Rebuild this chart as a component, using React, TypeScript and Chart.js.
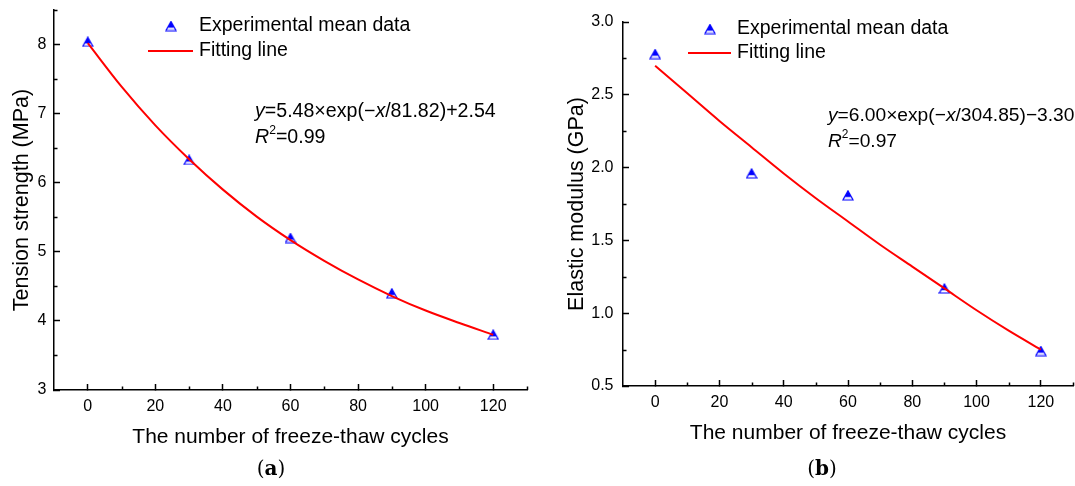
import React, { useEffect, useRef } from 'react';
import { Chart, registerables } from 'chart.js';

Chart.register(...registerables);

// ---------- data ----------
const cycles = [0, 30, 60, 90, 120];
const tensionMean = [8.04, 6.33, 5.2, 4.4, 3.8];
const modulusMean = [2.78, 1.96, 1.81, 1.17, 0.74];

const fitCycles = [0, 10, 20, 30, 40, 50, 60, 70, 80, 90, 100, 110, 120];
const tensionFit = [8.02, 7.39, 6.83, 6.34, 5.9, 5.51, 5.17, 4.87, 4.6, 4.36, 4.15, 3.97, 3.8];
const modulusFit = [2.7, 2.51, 2.32, 2.14, 1.96, 1.79, 1.63, 1.47, 1.32, 1.17, 1.02, 0.88, 0.75];

const xMajorTicks = [0, 20, 40, 60, 80, 100, 120];
const xMinorTicks = [10, 30, 50, 70, 90, 110, 130];
const tensionTicks = [3, 4, 5, 6, 7, 8];
const tensionMinor = [3.5, 4.5, 5.5, 6.5, 7.5, 8.5];
const modulusTicks = [0.5, 1.0, 1.5, 2.0, 2.5, 3.0];
const modulusMinor = [0.75, 1.25, 1.75, 2.25, 2.75];

const legendLabels = ['Experimental mean data', 'Fitting line'];
const xTitle = 'The number of freeze-thaw cycles';
const tensionTitle = 'Tension strength (MPa)';
const modulusTitle = 'Elastic modulus (GPa)';

type Run = { t: string; i?: boolean; b?: boolean; sup?: boolean; serif?: boolean };
const tensionEq: Run[] = [{ t: 'y', i: true }, { t: '=5.48×exp(−' }, { t: 'x', i: true }, { t: '/81.82)+2.54' }];
const tensionR2: Run[] = [{ t: 'R', i: true }, { t: '2', sup: true }, { t: '=0.99' }];
const modulusEq: Run[] = [{ t: 'y', i: true }, { t: '=6.00×exp(−' }, { t: 'x', i: true }, { t: '/304.85)−3.30' }];
const modulusR2: Run[] = [{ t: 'R', i: true }, { t: '2', sup: true }, { t: '=0.97' }];
const labelA: Run[] = [{ t: '(', serif: true }, { t: 'a', serif: true, b: true }, { t: ')', serif: true }];
const labelB: Run[] = [{ t: '(', serif: true }, { t: 'b', serif: true, b: true }, { t: ')', serif: true }];

// ---------- style ----------
const SANS = '"Liberation Sans", Arial, Helvetica, sans-serif';
const SERIF = '"DejaVu Serif", "Liberation Serif", serif';
const BLUE = '#0000ff';
const RED = '#ff0000';

function makeMarker() {
  const c = document.createElement('canvas');
  c.width = 12;
  c.height = 11;
  const g = c.getContext('2d')!;
  g.strokeStyle = BLUE;
  g.fillStyle = BLUE;
  g.lineWidth = 1.2;
  g.beginPath();
  g.moveTo(6, 1);
  g.lineTo(11, 10);
  g.lineTo(1, 10);
  g.closePath();
  g.stroke();
  g.beginPath();
  g.moveTo(6, 1);
  g.lineTo(9.4, 7.2);
  g.lineTo(2.6, 7.2);
  g.closePath();
  g.fill();
  return c;
}

function runFont(r: Run, size: number) {
  const fs = r.sup ? size * 0.62 : size;
  return `${r.i ? 'italic ' : ''}${r.b ? 'bold ' : ''}${fs}px ${r.serif ? SERIF : SANS}`;
}

function runsWidth(ctx: CanvasRenderingContext2D, runs: Run[], size: number) {
  let w = 0;
  for (const r of runs) {
    ctx.font = runFont(r, size);
    w += ctx.measureText(r.t).width;
  }
  return w;
}

function drawRuns(ctx: CanvasRenderingContext2D, runs: Run[], x: number, y: number, size: number) {
  let cx = x;
  ctx.textBaseline = 'middle';
  ctx.textAlign = 'left';
  for (const r of runs) {
    ctx.font = runFont(r, size);
    ctx.fillText(r.t, cx, y + (r.sup ? -size * 0.36 : 0));
    cx += ctx.measureText(r.t).width;
  }
}

type PanelCfg = {
  left: number;
  meanY: number[];
  fitY: number[];
  yMin: number;
  yMax: number;
  yTicks: number[];
  yMinor: number[];
  yDecimals: number;
  yTitle: string;
  eq: Run[];
  r2: Run[];
  tag: Run[];
  padTop: number;
  padRight: number;
  yAxisWidth: number;
  xAxisHeight: number;
  yTickPad: number;
  xTickPad: number;
  yTitlePad: number;
  xTitlePad: number;
  legend: { mx: number; my: number; lx1: number; lx2: number; ly: number; tx: number };
  eqPos: { x: number; y1: number; y2: number; size: number };
  tagPos: { x: number; y: number };
};

const panels: PanelCfg[] = [
  {
    left: 0,
    meanY: tensionMean,
    fitY: tensionFit,
    yMin: 3,
    yMax: 8.5,
    yTicks: tensionTicks,
    yMinor: tensionMinor,
    yDecimals: 0,
    yTitle: tensionTitle,
    eq: tensionEq,
    r2: tensionR2,
    tag: labelA,
    padTop: 10,
    padRight: 13,
    yAxisWidth: 54,
    xAxisHeight: 96,
    yTickPad: 13.5,
    xTickPad: 12.5,
    yTitlePad: 9,
    xTitlePad: 36,
    legend: { mx: 171, my: 26, lx1: 148, lx2: 193, ly: 51, tx: 199 },
    eqPos: { x: 255, y1: 112, y2: 138, size: 19.6 },
    tagPos: { x: 271, y: 470 },
  },
  {
    left: 540,
    meanY: modulusMean,
    fitY: modulusFit,
    yMin: 0.5,
    yMax: 3.0,
    yTicks: modulusTicks,
    yMinor: modulusMinor,
    yDecimals: 1,
    yTitle: modulusTitle,
    eq: modulusEq,
    r2: modulusR2,
    tag: labelB,
    padTop: 22,
    padRight: 3,
    yAxisWidth: 83,
    xAxisHeight: 100,
    yTickPad: 15.5,
    xTickPad: 13,
    yTitlePad: 24,
    xTitlePad: 40,
    legend: { mx: 170, my: 29, lx1: 148, lx2: 191, ly: 53, tx: 197 },
    eqPos: { x: 288, y1: 116, y2: 142, size: 19.2 },
    tagPos: { x: 282, y: 470 },
  },
];

function zeroPad(s: any) {
  s.paddingTop = 0;
  s.paddingBottom = 0;
  s.paddingLeft = 0;
  s.paddingRight = 0;
}

function Panel({ cfg }: { cfg: PanelCfg }) {
  const ref = useRef<HTMLCanvasElement>(null);

  useEffect(() => {
    const canvas = ref.current;
    if (!canvas) return;
    const marker = makeMarker();

    const decor = {
      id: 'decor',
      afterDraw(chart: any) {
        const ctx: CanvasRenderingContext2D = chart.ctx;
        const xs = chart.scales.x;
        const ys = chart.scales.y;
        const area = chart.chartArea;
        ctx.save();
        // minor ticks (inward)
        ctx.strokeStyle = '#000';
        ctx.lineWidth = 1.5;
        ctx.beginPath();
        for (const v of xMinorTicks) {
          const px = Math.round(xs.getPixelForValue(v)) + 0.5;
          ctx.moveTo(px, area.bottom);
          ctx.lineTo(px, area.bottom - 3.5);
        }
        for (const v of cfg.yMinor) {
          const py = Math.round(ys.getPixelForValue(v)) + 0.5;
          ctx.moveTo(area.left, py);
          ctx.lineTo(area.left + 3.5, py);
        }
        ctx.stroke();

        // legend
        const L = cfg.legend;
        ctx.drawImage(marker, L.mx - marker.width / 2, L.my - marker.height / 2);
        ctx.strokeStyle = RED;
        ctx.lineWidth = 2;
        ctx.beginPath();
        ctx.moveTo(L.lx1, L.ly);
        ctx.lineTo(L.lx2, L.ly);
        ctx.stroke();
        ctx.fillStyle = '#000';
        ctx.textBaseline = 'middle';
        ctx.textAlign = 'left';
        ctx.font = `19.5px ${SANS}`;
        ctx.fillText(legendLabels[0], L.tx, L.my);
        ctx.fillText(legendLabels[1], L.tx, L.ly);

        // equation
        drawRuns(ctx, cfg.eq, cfg.eqPos.x, cfg.eqPos.y1, cfg.eqPos.size);
        drawRuns(ctx, cfg.r2, cfg.eqPos.x, cfg.eqPos.y2, cfg.eqPos.size);

        // panel tag
        const tw = runsWidth(ctx, cfg.tag, 20);
        drawRuns(ctx, cfg.tag, cfg.tagPos.x - tw / 2, cfg.tagPos.y, 20);
        ctx.restore();
      },
    };

    const chart = new Chart(canvas, {
      type: 'scatter',
      data: {
        datasets: [
          {
            label: legendLabels[1],
            data: fitCycles.map((x, i) => ({ x, y: cfg.fitY[i] })),
            showLine: true,
            borderColor: RED,
            backgroundColor: RED,
            borderWidth: 2,
            pointRadius: 0,
            cubicInterpolationMode: 'monotone',
          } as any,
          {
            label: legendLabels[0],
            data: cycles.map((x, i) => ({ x, y: cfg.meanY[i] })),
            pointStyle: marker,
            pointRadius: 6,
            backgroundColor: BLUE,
            borderColor: BLUE,
          } as any,
        ],
      },
      options: {
        animation: false,
        responsive: false,
        devicePixelRatio: 1,
        events: [],
        layout: { padding: { left: 0, top: cfg.padTop, right: cfg.padRight, bottom: 0 } },
        plugins: { legend: { display: false }, tooltip: { enabled: false } },
        scales: {
          x: {
            type: 'linear',
            min: -10,
            max: 130,
            afterBuildTicks: (s: any) => {
              s.ticks = xMajorTicks.map((value) => ({ value }));
            },
            afterFit: (s: any) => {
              s.height = cfg.xAxisHeight;
              zeroPad(s);
            },
            grid: { drawOnChartArea: false, tickLength: -6, tickWidth: 1.5, tickColor: '#000' },
            border: { display: true, color: '#000', width: 1.5 },
            ticks: {
              padding: cfg.xTickPad,
              color: '#000',
              font: { family: SANS, size: 16 },
              autoSkip: false,
              maxRotation: 0,
              callback: (v: any) => String(v),
            },
            title: {
              display: true,
              text: xTitle,
              color: '#000',
              font: { family: SANS, size: 21 },
              padding: { top: 0, bottom: cfg.xTitlePad },
            },
          },
          y: {
            type: 'linear',
            min: cfg.yMin,
            max: cfg.yMax,
            afterBuildTicks: (s: any) => {
              s.ticks = cfg.yTicks.map((value) => ({ value }));
            },
            afterFit: (s: any) => {
              s.width = cfg.yAxisWidth;
              zeroPad(s);
            },
            grid: { drawOnChartArea: false, tickLength: -6, tickWidth: 1.5, tickColor: '#000' },
            border: { display: true, color: '#000', width: 1.5 },
            ticks: {
              padding: cfg.yTickPad,
              color: '#000',
              font: { family: SANS, size: 16 },
              autoSkip: false,
              callback: (v: any) => Number(v).toFixed(cfg.yDecimals),
            },
            title: {
              display: true,
              text: cfg.yTitle,
              color: '#000',
              font: { family: SANS, size: 21.5 },
              padding: { top: cfg.yTitlePad, bottom: 0 },
            },
          },
        },
      } as any,
      plugins: [decor],
    });

    return () => chart.destroy();
  }, [cfg]);

  return (
    <canvas
      ref={ref}
      width={540}
      height={486}
      style={{ position: 'absolute', left: cfg.left, top: 0, width: 540, height: 486 }}
    />
  );
}

export default function App() {
  return (
    <div
      style={{
        position: 'absolute',
        left: 0,
        top: 0,
        width: 1075,
        height: 486,
        overflow: 'hidden',
        background: '#fff',
      }}
    >
      {panels.map((p, i) => (
        <Panel key={i} cfg={p} />
      ))}
    </div>
  );
}
